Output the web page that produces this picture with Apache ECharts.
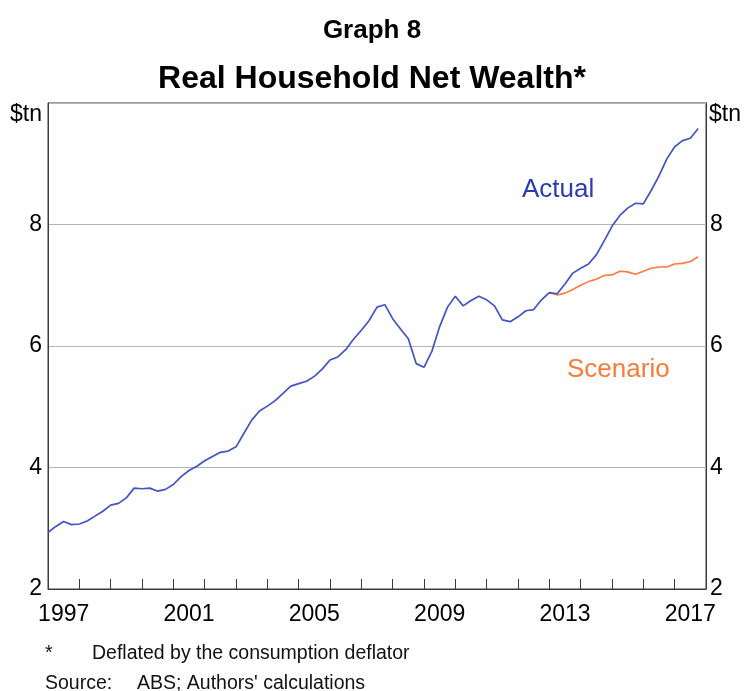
<!DOCTYPE html>
<html>
<head>
<meta charset="utf-8">
<script src="https://cdn.jsdelivr.net/npm/echarts@6/dist/echarts.min.js"></script>
<style>
html,body{margin:0;padding:0;background:#fff;}
#chart{width:744px;height:691px;}
</style>
</head>
<body>
<div id="chart"></div>
<script>
// Quarterly data, first observation at start of 1997
const START_YEAR = 1997;
const yearLabels = ['1997','1998','1999','2000','2001','2002','2003','2004','2005','2006','2007','2008','2009','2010','2011','2012','2013','2014','2015','2016','2017'];
const yTicks = [2, 4, 6, 8, 10];
const actual = [
  2.93, 3.03, 3.11, 3.06, 3.07, 3.12, 3.20, 3.28, 3.38, 3.41,
  3.50, 3.66, 3.65, 3.66, 3.61, 3.64, 3.72, 3.85, 3.95, 4.02,
  4.11, 4.18, 4.25, 4.27, 4.34, 4.56, 4.78, 4.93, 5.01, 5.10,
  5.22, 5.34, 5.38, 5.42, 5.50, 5.62, 5.77, 5.82, 5.94, 6.11,
  6.26, 6.42, 6.64, 6.68, 6.45, 6.28, 6.12, 5.71, 5.65, 5.91,
  6.32, 6.64, 6.82, 6.66, 6.75, 6.82, 6.76, 6.66, 6.43, 6.40,
  6.48, 6.58, 6.60, 6.76, 6.88, 6.86, 7.02, 7.20, 7.28, 7.35,
  7.50, 7.73, 7.97, 8.15, 8.27, 8.35, 8.34, 8.56, 8.80, 9.08,
  9.28, 9.38, 9.42, 9.58
];
const SCENARIO_START_INDEX = 64;
const scenario = [
  6.88, 6.84, 6.87, 6.93, 7.00, 7.06, 7.10, 7.16, 7.17, 7.23,
  7.22, 7.18, 7.23, 7.28, 7.30, 7.30, 7.35, 7.36, 7.39, 7.47
];

const FONT = '"Liberation Sans", Arial, Helvetica, sans-serif';
const actualData = actual.map((v, i) => [START_YEAR + i / 4, v]);
const scenarioData = scenario.map((v, i) => [START_YEAR + (SCENARIO_START_INDEX + i) / 4, v]);

const chart = echarts.init(document.getElementById('chart'), null, {renderer: 'canvas'});
const yAxisCommon = {
  type: 'value', min: yTicks[0], max: yTicks[yTicks.length - 1], interval: 2,
  axisLine: {show: true, lineStyle: {color: '#3a3a3a', width: 1}},
  axisTick: {show: false},
  axisLabel: {
    fontSize: 23, color: '#000', fontFamily: FONT,
    formatter: v => (v === 10 ? '' : String(v))
  }
};
chart.setOption({
  animation: false,
  backgroundColor: '#fff',
  grid: {left: 48, right: 38, top: 103, bottom: 102, show: true, borderColor: '#3a3a3a', borderWidth: 1},
  xAxis: [
    {
      type: 'value', min: START_YEAR, max: START_YEAR + yearLabels.length, interval: 1,
      axisLine: {show: true, onZero: false, lineStyle: {color: '#3a3a3a', width: 1}},
      axisTick: {show: true, inside: true, length: 10, lineStyle: {color: '#3a3a3a', width: 1}},
      axisLabel: {show: false},
      splitLine: {show: false}
    },
    {
      type: 'category', data: yearLabels, boundaryGap: true, position: 'bottom',
      axisLine: {show: false}, axisTick: {show: false},
      axisLabel: {interval: 3, fontSize: 23, color: '#000', fontFamily: FONT, margin: 14},
      splitLine: {show: false}
    }
  ],
  yAxis: [
    Object.assign({}, yAxisCommon, {
      position: 'left',
      axisLabel: Object.assign({}, yAxisCommon.axisLabel, {margin: 6}),
      splitLine: {show: true, lineStyle: {color: '#b4b4b4', width: 1}}
    }),
    Object.assign({}, yAxisCommon, {
      position: 'right',
      axisLabel: Object.assign({}, yAxisCommon.axisLabel, {margin: 4}),
      splitLine: {show: false}
    })
  ],
  series: [
    {
      name: 'Actual', type: 'line', data: actualData, xAxisIndex: 0, yAxisIndex: 0,
      showSymbol: false, symbol: 'none', z: 3,
      lineStyle: {color: '#4254c4', width: 1.7}
    },
    {
      name: 'Scenario', type: 'line', data: scenarioData, xAxisIndex: 0, yAxisIndex: 0,
      showSymbol: false, symbol: 'none', z: 2,
      lineStyle: {color: '#ff7a3c', width: 1.6}
    }
  ],
  graphic: [
    {type: 'text', left: 'center', top: 18, style: {text: 'Graph 8', fontSize: 26, fontWeight: 'bold', fill: '#000', fontFamily: FONT}},
    {type: 'text', left: 'center', top: 63, style: {text: 'Real Household Net Wealth*', fontSize: 32, fontWeight: 'bold', fill: '#000', fontFamily: FONT}},
    {type: 'text', x: 42, y: 115, style: {text: '$tn', fontSize: 23, fill: '#000', fontFamily: FONT, textAlign: 'right', textVerticalAlign: 'middle'}},
    {type: 'text', x: 709, y: 115, style: {text: '$tn', fontSize: 23, fill: '#000', fontFamily: FONT, textAlign: 'left', textVerticalAlign: 'middle'}},
    {type: 'text', x: 522, y: 190, style: {text: 'Actual', fontSize: 26, fill: '#2b3bb0', fontFamily: FONT, textAlign: 'left', textVerticalAlign: 'middle'}},
    {type: 'text', x: 567, y: 370, style: {text: 'Scenario', fontSize: 26, fill: '#f77b3a', fontFamily: FONT, textAlign: 'left', textVerticalAlign: 'middle'}},
    {type: 'text', x: 45, y: 654, style: {text: '*', fontSize: 19.5, fill: '#111', fontFamily: FONT, textAlign: 'left', textVerticalAlign: 'middle'}},
    {type: 'text', x: 92, y: 654, style: {text: 'Deflated by the consumption deflator', fontSize: 19.5, fill: '#111', fontFamily: FONT, textAlign: 'left', textVerticalAlign: 'middle'}},
    {type: 'text', x: 45, y: 684, style: {text: 'Source:', fontSize: 19.5, fill: '#111', fontFamily: FONT, textAlign: 'left', textVerticalAlign: 'middle'}},
    {type: 'text', x: 137, y: 684, style: {text: "ABS; Authors' calculations", fontSize: 19.5, fill: '#111', fontFamily: FONT, textAlign: 'left', textVerticalAlign: 'middle'}}
  ]
});
</script>
</body>
</html>
